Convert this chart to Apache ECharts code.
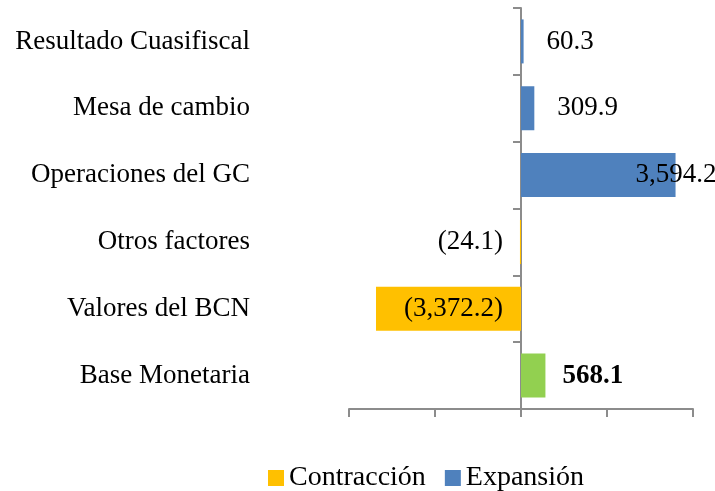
<!DOCTYPE html>
<html>
<head>
<meta charset="utf-8">
<script src="https://cdn.jsdelivr.net/npm/echarts@6/dist/echarts.min.js"></script>
<style>
  html, body { margin: 0; padding: 0; background: #fff; }
  #chart { width: 715px; height: 491px; }
</style>
</head>
<body>
<div id="chart"></div>
<script>
var categorias = ['Base Monetaria', 'Valores del BCN', 'Otros factores', 'Operaciones del GC', 'Mesa de cambio', 'Resultado Cuasifiscal'];
var contraccion = ['-', -3372.2, -24.1, '-', '-', '-'];
var expansion = [568.1, '-', '-', 3594.2, 309.9, 60.3];
var ejeX = [-4000, 4000, 2000];

var fuente = 'Liberation Serif';

function formato(v) {
    var s = Math.abs(v).toLocaleString('en-US', { minimumFractionDigits: 1, maximumFractionDigits: 1 });
    return v < 0 ? '(' + s + ')' : s;
}

var grafico = echarts.init(document.getElementById('chart'));

var datosExp = expansion.map(function (v, i) {
    if (i === 0) {
        return {
            value: v,
            itemStyle: { color: '#92D050' },
            label: { fontWeight: 'bold', distance: 17 }
        };
    }
    if (i === 3) {
        return { value: v, label: { offset: [-63, 0] } };
    }
    return v;
});

option = {
    animation: false,
    grid: { left: 349, right: 22, top: 8, bottom: 82, containLabel: false, outerBoundsMode: 'none' },
    legend: {
        left: 263,
        top: 459,
        icon: 'rect',
        itemWidth: 16,
        itemHeight: 16,
        itemGap: 19,
        textStyle: { fontFamily: fuente, fontSize: 28, color: '#000' },
        data: ['Contracción', 'Expansión']
    },
    xAxis: {
        type: 'value',
        min: ejeX[0],
        max: ejeX[1],
        interval: ejeX[2],
        axisLine: { show: true, onZero: false, lineStyle: { color: '#8c8c8c', width: 2 } },
        axisTick: { show: true, length: 8, lineStyle: { color: '#8c8c8c', width: 2 } },
        axisLabel: { show: false },
        splitLine: { show: false }
    },
    yAxis: {
        type: 'category',
        data: categorias,
        axisLine: { show: true, onZero: true, lineStyle: { color: '#8c8c8c', width: 2 } },
        axisTick: { show: true, length: 8, lineStyle: { color: '#8c8c8c', width: 2 } },
        axisLabel: { margin: 99, fontFamily: fuente, fontSize: 27, color: '#000' }
    },
    series: [{
        name: 'Contracción',
        type: 'bar',
        stack: 'total',
        barWidth: 44,
        itemStyle: { color: '#FFC000' },
        label: {
            show: true,
            position: 'insideRight',
            distance: 18,
            fontFamily: fuente,
            fontSize: 27,
            color: '#000',
            formatter: function (p) { return formato(p.value); }
        },
        data: contraccion
    }, {
        name: 'Expansión',
        type: 'bar',
        stack: 'total',
        barWidth: 44,
        itemStyle: { color: '#4F81BD' },
        label: {
            show: true,
            position: 'right',
            distance: 23,
            fontFamily: fuente,
            fontSize: 27,
            color: '#000',
            formatter: function (p) { return formato(p.value); }
        },
        data: datosExp
    }]
};

grafico.setOption(option, true);
</script>
</body>
</html>
